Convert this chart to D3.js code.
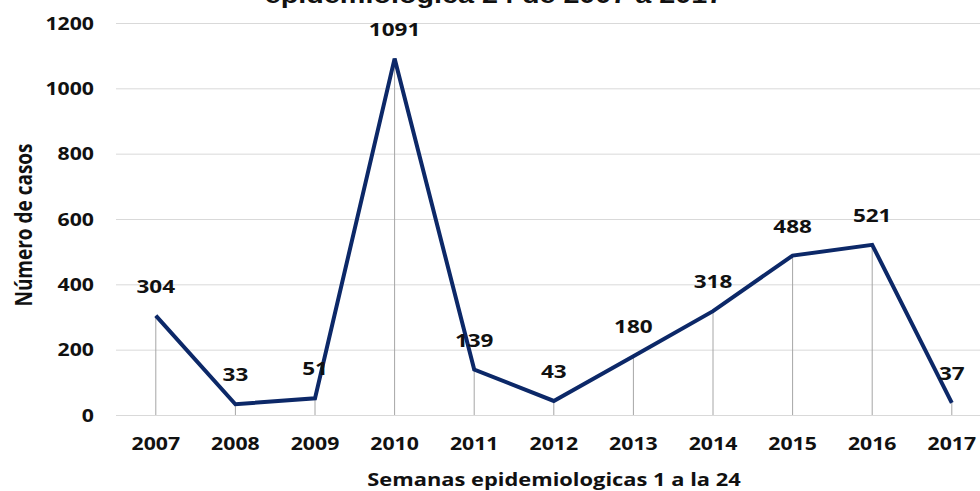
<!DOCTYPE html>
<html>
<head>
  <meta charset="utf-8">
  <script src="https://d3js.org/d3.v7.min.js"></script>
  <style>
    body { margin: 0px; background: #fff; }
    text { font-family: "Open Sans", sans-serif; font-weight: bold; fill: #111; }
  </style>
</head>
<body>
  <svg width="980" height="491"></svg>
  <script>
    // data
    const years = ['2007', '2008', '2009', '2010', '2011', '2012', '2013', '2014', '2015', '2016', '2017'];
    const cases = [304, 33, 51, 1091, 139, 43, 180, 318, 488, 521, 37];
    const yTicks = [0, 200, 400, 600, 800, 1000, 1200];

    const data = years.map((y, i) => ({ year: y, value: cases[i] }));

    const svg = d3.select('svg');
    const margin = { left: 116, top: 23 };
    const innerHeight = 392;
    const k = 1.25; // the original picture is stretched sideways

    // widen horizontal text without moving its anchor
    const stretch = sel => sel.each(function () {
      const t = d3.select(this);
      const x = +t.attr('x') || 0;
      t.attr('x', x / k).attr('transform', `scale(${k},1)`);
    });

    const g = svg.append('g')
      .attr('transform', `translate(${margin.left},${margin.top})`);

    const xScale = d3.scaleBand()
      .domain(years)
      .range([0, 79.6 * years.length]);
    const yScale = d3.scaleLinear()
      .domain([0, 1200])
      .range([innerHeight, 0]);

    const xc = d => xScale(d) + xScale.bandwidth() / 2;

    // gridlines + y labels
    const yAxisG = g.append('g')
      .call(d3.axisLeft(yScale).tickValues(yTicks).tickFormat(d3.format('d'))
        .tickSize(-900).tickPadding(22));
    yAxisG.select('.domain').remove();
    yAxisG.selectAll('.tick line').attr('stroke', '#d9d9d9');
    yAxisG.selectAll('.tick text').style('font-size', '17px').attr('dy', '0.36em').call(stretch);

    // x axis
    const xAxisG = g.append('g')
      .attr('transform', `translate(0, ${innerHeight})`)
      .call(d3.axisBottom(xScale).tickSize(0).tickPadding(23));
    xAxisG.select('.domain').remove();
    xAxisG.selectAll('.tick text').style('font-size', '17px').call(stretch);

    // drop lines
    g.selectAll('.drop').data(data)
      .enter().append('line')
      .attr('x1', d => xc(d.year))
      .attr('x2', d => xc(d.year))
      .attr('y1', d => yScale(d.value))
      .attr('y2', innerHeight)
      .attr('stroke', '#a6a6a6')
      .attr('stroke-width', 1);

    // line
    const line = d3.line()
      .x(d => xc(d.year))
      .y(d => yScale(d.value));

    g.append('path')
      .datum(data)
      .attr('d', line)
      .attr('fill', 'none')
      .attr('stroke', '#0c2868')
      .attr('stroke-width', 4)
      .attr('stroke-linejoin', 'miter');

    // value labels
    g.selectAll('.lbl').data(data)
      .enter().append('text')
      .attr('x', d => xc(d.year))
      .attr('y', d => yScale(d.value) - 23)
      .attr('text-anchor', 'middle')
      .style('font-size', '18px')
      .text(d => d.value)
      .call(stretch);

    // axis titles
    svg.append('text')
      .attr('x', 554)
      .attr('y', 486)
      .attr('text-anchor', 'middle')
      .style('font-size', '17.5px')
      .text('Semanas epidemiologicas 1 a la 24')
      .call(stretch);

    svg.append('text')
      .attr('transform', 'translate(32, 225) rotate(-90) scale(1,1.2)')
      .attr('text-anchor', 'middle')
      .style('font-size', '19px')
      .text('Número de casos');

    // title (cut at top)
    svg.append('text')
      .attr('x', 494)
      .attr('y', 3)
      .attr('text-anchor', 'middle')
      .style('font-family', 'Liberation Sans, Arial, sans-serif')
      .style('font-size', '23px')
      .text('epidemiologica 24 de 2007 a 2017')
      .call(stretch);
  </script>
</body>
</html>
